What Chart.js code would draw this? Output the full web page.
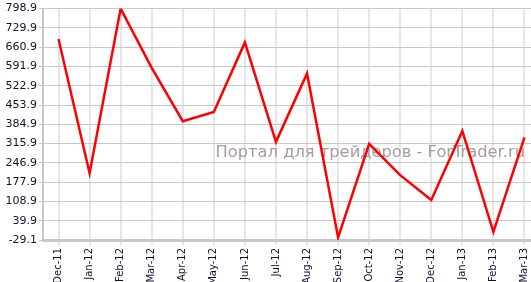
<!DOCTYPE html>
<html>
<head>
<meta charset="utf-8">
<script src="https://cdn.jsdelivr.net/npm/chart.js@4/dist/chart.umd.min.js"></script>
<style>
html,body{margin:0;padding:0;background:#fff;overflow:hidden;width:531px;height:282px;}
canvas{display:block;}
</style>
</head>
<body>
<canvas id="c" width="540" height="282"></canvas>
<script>
const categories = ["Dec-11","Jan-12","Feb-12","Mar-12","Apr-12","May-12","Jun-12","Jul-12","Aug-12","Sep-12","Oct-12","Nov-12","Dec-12","Jan-13","Feb-13","Mar-13"];
const values = [690, 210, 799, 587, 396, 429, 678, 322, 567, -20, 315, 203, 114, 361, 0, 338];
const yTicks = [-29.1, 39.9, 108.9, 177.9, 246.9, 315.9, 384.9, 453.9, 522.9, 591.9, 660.9, 729.9, 798.9];
const watermark = "Портал для трейдеров - ForTrader.ru";

const watermarkPlugin = {
  id: 'watermark',
  beforeDatasetsDraw(chart) {
    const ctx = chart.ctx;
    ctx.save();
    ctx.font = '16.3px "DejaVu Sans"';
    ctx.fillStyle = '#a89c9c';
    ctx.textBaseline = 'alphabetic';
    ctx.textAlign = 'right';
    ctx.fillText(watermark, 525, 157);
    ctx.restore();
  }
};

new Chart(document.getElementById('c'), {
  type: 'line',
  data: {
    labels: categories,
    datasets: [{
      data: values,
      borderColor: '#ff0000',
      borderWidth: 2.5,
      pointRadius: 0,
      tension: 0,
      fill: false
    }]
  },
  options: {
    responsive: false,
    animation: false,
    layout: { padding: { top: 5, right: 0, left: 0, bottom: 0 } },
    plugins: { legend: { display: false }, tooltip: { enabled: false } },
    scales: {
      x: {
        offset: true,
        grid: { offset: false, color: '#e6e6e6', lineWidth: 2, tickLength: 5, drawTicks: true },
        border: { color: '#c8c8c8', width: 3 },
        ticks: {
          autoSkip: false, maxRotation: 90, minRotation: 90, padding: 3,
          color: '#101030', font: { family: 'DejaVu Sans', size: 10 }
        },
        afterFit(scale) { scale.height = 42; }
      },
      y: {
        min: yTicks[0],
        max: yTicks[yTicks.length - 1],
        afterBuildTicks(scale) { scale.ticks = yTicks.map(v => ({ value: v })); },
        grid: { color: '#c8c8c8', lineWidth: 1, tickLength: 4 },
        border: { color: '#c8c8c8', width: 2 },
        ticks: {
          padding: 2, color: '#101030', font: { family: 'DejaVu Sans', size: 11 },
          callback: v => Number(v).toFixed(1)
        },
        afterFit(scale) { scale.width = 43; }
      }
    }
  },
  plugins: [watermarkPlugin]
});
</script>
</body>
</html>
